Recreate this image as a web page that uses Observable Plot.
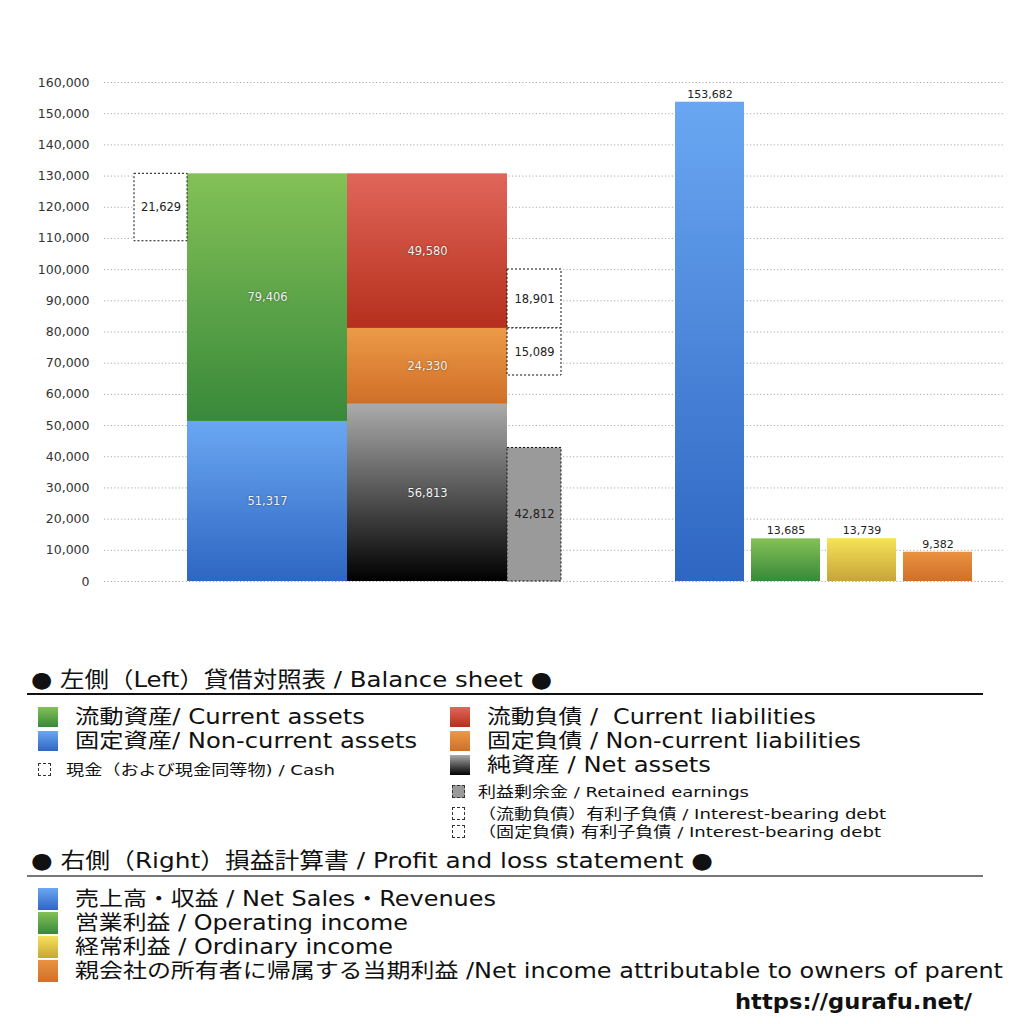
<!DOCTYPE html>
<html>
<head>
<meta charset="utf-8">
<script src="https://cdn.jsdelivr.net/npm/d3@7"></script>
<script src="https://cdn.jsdelivr.net/npm/@observablehq/plot@0.6"></script>
<style>
  html, body { margin: 0; padding: 0; background: #fff; }
  body { width: 1024px; height: 1024px; position: relative; overflow: hidden;
         font-family: "DejaVu Sans", "Noto Sans CJK JP", sans-serif; color: #111; }
  #chart { position: absolute; left: 0; top: 0; }
  .abs { position: absolute; white-space: nowrap; transform-origin: 0 50%; }
  .hdr { font-size: 22px; line-height: 28px; }
  .big { font-size: 20.5px; line-height: 24px; }
  .small { font-size: 14.5px; line-height: 18px; }
  .sw { position: absolute; width: 20px; height: 20px; }
  .swd { position: absolute; width: 13px; height: 13px; border: 1px dashed #333; box-sizing: border-box; }
  .rule { position: absolute; left: 27px; width: 956px; }
</style>
</head>
<body>
<div id="chart"></div>
<script>
// ---------- data ----------
const assetLabels = ["固定資産", "流動資産"];
const assetValues = [51317, 79406];
const liabLabels = ["純資産", "固定負債", "流動負債"];
const liabValues = [56813, 24330, 49580];
const cashLabel = "現金";
const cashValue = 21629;
const debtLabels = ["(流動負債)有利子負債", "(固定負債)有利子負債"];
const debtValues = [18901, 15089];
const retainedLabel = "利益剰余金";
const retainedValue = 42812;
const plLabels = ["売上高・収益", "営業利益", "経常利益", "親会社の所有者に帰属する当期利益"];
const plValues = [153682, 13685, 13739, 9382];
const yTicks = d3.range(0, 160001, 10000);

// ---------- layout (x units along the plot frame) ----------
const L = { cash: [30, 83], assets: [83, 243], liab: [243, 403], side: [403, 457], pl0: 571, plW: 69, plStep: 76 };
const assetGrad = ["gBlue", "gGreen"];
const liabGrad = ["gBlack", "gOrange", "gRed"];
const plGrad = ["gBlue", "gGreen", "gYellow", "gOrange2"];

// ---------- derived tables ----------
const stackUp = (labels, values, grads, [x1, x2]) => {
  const tops = d3.cumsum(values);
  return labels.map((k, i) => ({ k, v: values[i], x1, x2, y1: tops[i] - values[i], y2: tops[i], g: grads[i] }));
};
const assets = stackUp(assetLabels, assetValues, assetGrad, L.assets);
const liabs = stackUp(liabLabels, liabValues, liabGrad, L.liab);
const totalAssets = d3.sum(assetValues);
const liabTopNC = liabValues[0] + liabValues[1];
const boxes = [
  { k: cashLabel, v: cashValue, x1: L.cash[0], x2: L.cash[1], y1: totalAssets - cashValue, y2: totalAssets, fill: "#fff" },
  { k: debtLabels[0], v: debtValues[0], x1: L.side[0], x2: L.side[1], y1: liabTopNC, y2: liabTopNC + debtValues[0], fill: "#fff" },
  { k: debtLabels[1], v: debtValues[1], x1: L.side[0], x2: L.side[1], y1: liabTopNC - debtValues[1], y2: liabTopNC, fill: "#fff" },
  { k: retainedLabel, v: retainedValue, x1: L.side[0], x2: L.side[1], y1: 0, y2: retainedValue, fill: "#9a9a9a" }
];
const pl = plLabels.map((k, i) => ({ k, v: plValues[i], x1: L.pl0 + i * L.plStep, x2: L.pl0 + i * L.plStep + L.plW, g: plGrad[i] }));
const fmt = d3.format(",");

const chart = Plot.plot({
  width: 1024,
  height: 600,
  marginTop: 82,
  marginBottom: 19,
  marginLeft: 104,
  marginRight: 19,
  style: { fontFamily: "'DejaVu Sans', 'Noto Sans CJK JP', sans-serif", background: "transparent" },
  x: { domain: [0, 901], axis: null },
  y: { domain: [0, 160000], axis: null },
  marks: [
    Plot.ruleY(yTicks, { stroke: "#aaa", strokeDasharray: "1.2,2.2", strokeWidth: 1 }),
    Plot.axisY({ ticks: yTicks, tickFormat: fmt, tickSize: 0, tickPadding: 15, fontSize: 12.5, fill: "#333", label: null }),
    Plot.rect(assets, { x1: "x1", x2: "x2", y1: "y1", y2: "y2", fill: d => `url(#${d.g})` }),
    Plot.rect(liabs, { x1: "x1", x2: "x2", y1: "y1", y2: "y2", fill: d => `url(#${d.g})` }),
    Plot.rect(boxes, { x1: "x1", x2: "x2", y1: "y1", y2: "y2", fill: "fill", stroke: "#111", strokeDasharray: "2,2", strokeWidth: 1 }),
    Plot.rect(pl, { x1: "x1", x2: "x2", y1: 0, y2: "v", fill: d => `url(#${d.g})` }),
    Plot.text(assets.concat(liabs), { x: d => (d.x1 + d.x2) / 2, y: d => (d.y1 + d.y2) / 2, text: d => fmt(d.v), fill: "#f2f2f2", fontSize: 11.5, className: "inlbl" }),
    Plot.text(boxes, { x: d => (d.x1 + d.x2) / 2, y: d => (d.y1 + d.y2) / 2, text: d => fmt(d.v), fill: "#222", fontSize: 11.5 }),
    Plot.text(pl, { x: d => (d.x1 + d.x2) / 2, y: "v", text: d => fmt(d.v), fill: "#222", fontSize: 11, dy: -8 })
  ]
});
document.getElementById("chart").appendChild(chart);

// gradients
const svg = d3.select(chart);
const defs = svg.insert("defs", ":first-child");
const grads = {
  gBlue: ["#6aa7f2", "#2e66c2"],
  gGreen: ["#84c157", "#38893a"],
  gRed: ["#e0665a", "#b62f1c"],
  gOrange: ["#ec9a48", "#cf6f27"],
  gBlack: ["#ababab", "#000000"],
  gYellow: ["#f6e257", "#c6a53a"],
  gOrange2: ["#e99340", "#d06f2a"]
};
for (const [id, [c0, c1]] of Object.entries(grads)) {
  const g = defs.append("linearGradient").attr("id", id).attr("x1", 0).attr("y1", 0).attr("x2", 0).attr("y2", 1);
  g.append("stop").attr("offset", "0%").attr("stop-color", c0);
  g.append("stop").attr("offset", "100%").attr("stop-color", c1);
}
svg.selectAll(".inlbl text").style("text-shadow", "0 0 2px rgba(0,0,0,0.5)");
</script>

<!-- legend -->
<div class="abs hdr" data-r="552" style="left:31px; top:666px;">● 左側（Left）貸借対照表 / Balance sheet ●</div>
<div class="rule" style="top:693px; height:1.5px; background:#111;"></div>

<div class="sw" style="left:38px; top:707px; background:linear-gradient(#84c157,#38893a);"></div>
<div class="abs big" data-r="365" style="left:75px; top:705px;">流動資産/ Current assets</div>
<div class="sw" style="left:38px; top:731px; background:linear-gradient(#6aa7f2,#2e66c2);"></div>
<div class="abs big" data-r="417" style="left:75px; top:729px;">固定資産/ Non-current assets</div>
<div class="swd" style="left:38px; top:763px;"></div>
<div class="abs small" data-r="335" style="left:66px; top:761px;">現金（および現金同等物) / Cash</div>

<div class="sw" style="left:450px; top:707px; background:linear-gradient(#e0665a,#b62f1c);"></div>
<div class="abs big" data-r="816" style="left:487px; top:705px;">流動負債 /&nbsp; Current liabilities</div>
<div class="sw" style="left:450px; top:731px; background:linear-gradient(#ec9a48,#cf6f27);"></div>
<div class="abs big" data-r="861" style="left:487px; top:729px;">固定負債 / Non-current liabilities</div>
<div class="sw" style="left:450px; top:755px; background:linear-gradient(#ababab,#000);"></div>
<div class="abs big" data-r="711" style="left:487px; top:753px;">純資産 / Net assets</div>
<div class="swd" style="left:452px; top:785px; background:#9a9a9a;"></div>
<div class="abs small" data-r="749" style="left:478px; top:783px;">利益剰余金 / Retained earnings</div>
<div class="swd" style="left:452px; top:807px;"></div>
<div class="abs small" data-r="886" style="left:478px; top:805px;">（流動負債）有利子負債 / Interest-bearing debt</div>
<div class="swd" style="left:452px; top:825px;"></div>
<div class="abs small" data-r="881" style="left:478px; top:823px;">（固定負債) 有利子負債 / Interest-bearing debt</div>

<div class="abs hdr" data-r="713" style="left:31px; top:847px;">● 右側（Right）損益計算書 / Profit and loss statement ●</div>
<div class="rule" style="top:875px; height:2px; background:#777;"></div>

<div class="sw" style="left:38px; top:888px; height:22px; background:linear-gradient(#6aa7f2,#2e66c2);"></div>
<div class="abs big" data-r="496" style="left:75px; top:887px;">売上高・収益 / Net Sales・Revenues</div>
<div class="sw" style="left:38px; top:912px; height:22px; background:linear-gradient(#84c157,#38893a);"></div>
<div class="abs big" data-r="408" style="left:75px; top:911px;">営業利益 / Operating income</div>
<div class="sw" style="left:38px; top:936px; height:22px; background:linear-gradient(#f6e257,#c6a53a);"></div>
<div class="abs big" data-r="393" style="left:75px; top:935px;">経常利益 / Ordinary income</div>
<div class="sw" style="left:38px; top:960px; height:22px; background:linear-gradient(#e99340,#d06f2a);"></div>
<div class="abs big" data-r="1003" style="left:75px; top:959px;">親会社の所有者に帰属する当期利益 /Net income attributable to owners of parent</div>

<div class="abs" data-r="972" style="left:735px; top:988px; font-family:'DejaVu Sans', sans-serif; font-weight:bold; font-size:21px; line-height:28px;">https://gurafu.net/</div>

<script>
// stretch each legend line horizontally to the extent it has in the reference
document.querySelectorAll(".abs[data-r]").forEach(el => {
  const r = el.getBoundingClientRect();
  const target = +el.dataset.r - r.left;
  el.style.transform = `scaleX(${(target / r.width).toFixed(4)})`;
});
</script>
</body>
</html>
